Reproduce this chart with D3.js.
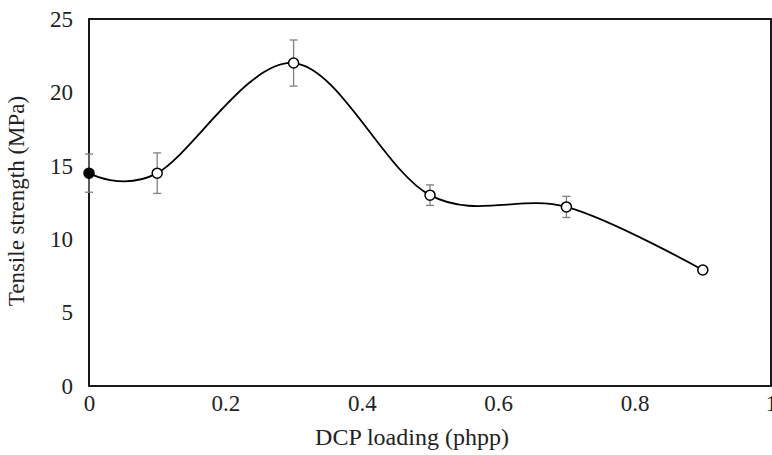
<!DOCTYPE html>
<html>
<head>
<meta charset="utf-8">
<script src="https://cdn.jsdelivr.net/npm/d3@7"></script>
<style>
  body { margin: 0; background: #fff; }
  text { font-family: "Liberation Serif", "Times New Roman", serif; fill: #222; }
</style>
</head>
<body>
<div id="chart"></div>
<script>
var loading = [0, 0.1, 0.3, 0.5, 0.7, 0.9];
var strength = [14.5, 14.5, 22.0, 13.0, 12.2, 7.9];
var errors = [1.3, 1.38, 1.57, 0.7, 0.72, 0];
var xTicks = [0, 0.2, 0.4, 0.6, 0.8, 1];
var yTicks = [0, 5, 10, 15, 20, 25];

var width = 772,
    height = 455;

var svg = d3.select("#chart")
    .append("svg")
    .attr("width", width)
    .attr("height", height);

var x = d3.scaleLinear().domain([0, 1]).range([89, 771]);
var y = d3.scaleLinear().domain([0, 25]).range([386, 19]);

var pts = loading.map(function (d, i) {
    return { x: d, y: strength[i], e: errors[i], first: i == 0 };
});

// axes: labels only, frame drawn below
var xAxis = svg.append("g")
    .attr("transform", "translate(0,386)")
    .call(d3.axisBottom(x).tickValues(xTicks).tickSize(0).tickPadding(9)
        .tickFormat(function (d) { return d3.format("")(d); }));
xAxis.select(".domain").remove();
xAxis.selectAll("text").style("font-size", "23px").attr("font-family", null);

var yAxis = svg.append("g")
    .attr("transform", "translate(89,0)")
    .call(d3.axisLeft(y).tickValues(yTicks).tickSize(0).tickPadding(16));
yAxis.select(".domain").remove();
yAxis.selectAll("text").style("font-size", "23px").attr("font-family", null);

// plot frame
svg.append("rect")
    .attr("x", x(0))
    .attr("y", y(25))
    .attr("width", x(1) - x(0))
    .attr("height", y(0) - y(25))
    .attr("fill", "none")
    .attr("stroke", "#000")
    .attr("stroke-width", 1.8);

// error bars
var eb = svg.append("g").selectAll("g")
    .data(pts.filter(function (d) { return d.e > 0; }))
    .enter().append("g")
    .attr("stroke", "#808080")
    .attr("stroke-width", 1.3);
eb.append("line")
    .attr("x1", function (d) { return x(d.x); })
    .attr("x2", function (d) { return x(d.x); })
    .attr("y1", function (d) { return y(d.y + d.e); })
    .attr("y2", function (d) { return y(d.y - d.e); });
eb.append("line")
    .attr("x1", function (d) { return x(d.x) - 4; })
    .attr("x2", function (d) { return x(d.x) + 4; })
    .attr("y1", function (d) { return y(d.y + d.e); })
    .attr("y2", function (d) { return y(d.y + d.e); });
eb.append("line")
    .attr("x1", function (d) { return x(d.x) - 4; })
    .attr("x2", function (d) { return x(d.x) + 4; })
    .attr("y1", function (d) { return y(d.y - d.e); })
    .attr("y2", function (d) { return y(d.y - d.e); });

// smoothed line
var line = d3.line()
    .x(function (d) { return x(d.x); })
    .y(function (d) { return y(d.y); })
    .curve(d3.curveCardinal.tension(0));

svg.append("path")
    .datum(pts)
    .attr("d", line)
    .attr("fill", "none")
    .attr("stroke", "#000")
    .attr("stroke-width", 1.8);

svg.append("g").selectAll("circle")
    .data(pts)
    .enter().append("circle")
    .attr("cx", function (d) { return x(d.x); })
    .attr("cy", function (d) { return y(d.y); })
    .attr("r", 5)
    .attr("fill", function (d) { return d.first ? "#000" : "#fff"; })
    .attr("stroke", "#000")
    .attr("stroke-width", 1.5);

// titles
svg.append("text")
    .attr("x", 412)
    .attr("y", 445)
    .attr("text-anchor", "middle")
    .style("font-size", "24px")
    .text("DCP loading (phpp)");

svg.append("text")
    .attr("transform", "translate(24,201) rotate(-90)")
    .attr("text-anchor", "middle")
    .style("font-size", "23px")
    .text("Tensile strength (MPa)");
</script>
</body>
</html>
